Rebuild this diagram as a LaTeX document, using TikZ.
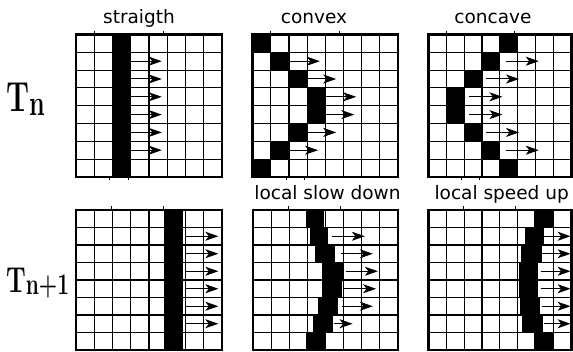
\documentclass[tikz,border=0pt]{standalone}
\usepackage{fontspec}
\setsansfont{DejaVu Sans}
\usetikzlibrary{arrows.meta}

\tikzset{
    frame/.style = {line width=2.6pt},
    cellline/.style = {line width=1.1pt},
    tick/.style = {line width=0.8pt},
    flow/.style = {line width=1pt, -{Stealth[length=13pt, width=9pt, inset=3.5pt]}},
    caption/.style = {font=\sffamily\fontsize{18.5}{20}\selectfont, inner sep=0pt, anchor=base},
    tlabel/.style = {inner sep=0pt, anchor=base west, xscale=0.7, transform shape, font=\bfseries}
}

\begin{document}
\begin{tikzpicture}[x=1pt, y=-1pt]
    \useasboundingbox (0,0) rectangle (573,352);
    \def\topY{34.5}
    \def\botY{210}

    %panel straigth
    \begin{scope}[shift={(76,\topY)}, x=18.25pt, y=-17.8pt]
        \foreach \i in {1,...,7} {
            \draw[cellline] (\i,0) -- (\i,8);
            \draw[cellline] (0,\i) -- (8,\i);
        }
        \fill (2,0) rectangle (3,8);
        \foreach \r in {1,...,6}
            \draw[flow] (3,\r+0.5) -- (4.7,\r+0.5);
        \draw[frame] (0,0) rectangle (8,8);
        \draw[tick] (1,0) -- (1,-0.2) (4.8,0) -- (4.8,-0.2) (1.85,8) -- (1.85,8.2) (2.85,8) -- (2.85,8.2);
    \end{scope}

    %panel convex
    \begin{scope}[shift={(252.7,\topY)}, x=18.15pt, y=-17.8pt]
        \foreach \i in {1,...,7} {
            \draw[cellline] (\i,0) -- (\i,8);
            \draw[cellline] (0,\i) -- (8,\i);
        }
        \foreach \r/\c in {0/0, 1/1, 2/2, 3/3, 4/3, 5/2, 6/1, 7/0}
            \fill (\c,\r) rectangle (\c+1,\r+1);
        \foreach \r/\a/\b in {1/2/3.7, 2/3/4.6, 3/4/5.7, 4/4/5.6, 5/3/4.6, 6/2/3.6}
            \draw[flow] (\a,\r+0.5) -- (\b,\r+0.5);
        \draw[frame] (0,0) rectangle (8,8);
        \draw[tick] (1,0) -- (1,-0.2) (4.8,0) -- (4.8,-0.2) (1.85,8) -- (1.85,8.2) (2.85,8) -- (2.85,8.2);
    \end{scope}

    %panel concave
    \begin{scope}[shift={(428.3,\topY)}, x=17.9pt, y=-17.8pt]
        \foreach \i in {1,...,7} {
            \draw[cellline] (\i,0) -- (\i,8);
            \draw[cellline] (0,\i) -- (8,\i);
        }
        \foreach \r/\c in {0/4, 1/3, 2/2, 3/1, 4/1, 5/2, 6/3, 7/4}
            \fill (\c,\r) rectangle (\c+1,\r+1);
        \foreach \r/\a/\b in {1/4.33/6.17, 2/3.25/5.07, 3/2.3/4.14, 4/2.3/4.14, 5/3.25/5.07, 6/4.33/6.17}
            \draw[flow] (\a,\r+0.5) -- (\b,\r+0.5);
        \draw[frame] (0,0) rectangle (8,8);
        \draw[tick] (1,0) -- (1,-0.2) (4.8,0) -- (4.8,-0.2) (1.85,8) -- (1.85,8.2) (2.85,8) -- (2.85,8.2);
    \end{scope}

    %panel straigth, next step
    \begin{scope}[shift={(76,\botY)}, x=18.25pt, y=-17.5pt]
        \foreach \i in {1,...,7} {
            \draw[cellline] (\i,0) -- (\i,8);
            \draw[cellline] (0,\i) -- (8,\i);
        }
        \fill (4.8,0) rectangle (5.85,8);
        \foreach \r in {1,...,6}
            \draw[flow] (6,\r+0.5) -- (7.8,\r+0.5);
        \draw[frame] (0,0) rectangle (8,8);
        \draw[tick] (1.95,0) -- (1.95,-0.2) (4.8,0) -- (4.8,-0.2);
    \end{scope}

    %panel local slow down
    \begin{scope}[shift={(253,\botY)}, x=18.1pt, y=-17.5pt]
        \foreach \i in {1,...,7} {
            \draw[cellline] (\i,0) -- (\i,8);
            \draw[cellline] (0,\i) -- (8,\i);
        }
        \foreach \r/\a/\b in {0/2.95/3.95, 1/3.15/4.15, 2/3.45/4.55, 3/3.8/5.0, 4/3.8/4.9, 5/3.6/4.7, 6/3.3/4.4, 7/2.95/4.05}
            \fill (\a,\r) rectangle (\b,\r+1);
        \foreach \r/\a/\b in {1/4.34/6.18, 2/4.85/6.62, 3/5.15/6.9, 4/5.05/6.8, 5/4.9/6.62, 6/4.45/5.5}
            \draw[flow] (\a,\r+0.5) -- (\b,\r+0.5);
        \draw[frame] (0,0) rectangle (8,8);
        \draw[tick] (1.95,0) -- (1.95,-0.2) (4.85,0) -- (4.85,-0.2);
    \end{scope}

    %panel local speed up
    \begin{scope}[shift={(428.3,\botY)}, x=17.9pt, y=-17.5pt]
        \foreach \i in {1,...,7} {
            \draw[cellline] (\i,0) -- (\i,8);
            \draw[cellline] (0,\i) -- (8,\i);
        }
        \foreach \r/\a/\b in {0/5.9/6.95, 1/5.4/6.45, 2/5.2/6.35, 3/5.05/6.15, 4/5.05/6.15, 5/5.1/6.25, 6/5.25/6.4, 7/5.9/6.95}
            \fill (\a,\r) rectangle (\b,\r+1);
        \foreach \r/\a in {1/6.45, 2/6.36, 3/6.27, 4/6.27, 5/6.36, 6/6.45}
            \draw[flow] (\a,\r+0.5) -- (7.95,\r+0.5);
        \draw[frame] (0,0) rectangle (8,8);
        \draw[tick] (1.95,0) -- (1.95,-0.2) (4.85,0) -- (4.85,-0.2);
    \end{scope}

    %labels
    \node[caption] (lstraigth) at (139,23.3) {straigth};
    \node[caption] (lconvex) at (314,23.3) {convex};
    \node[caption] (lconcave) at (493,23.3) {concave};
    \node[caption] (lslow) at (327.5,200) {local slow down};
    \node[caption] (lspeed) at (501.7,200) {local speed up};
    \node[tlabel] (tn) at (6,111.7) {\fontsize{42}{42}\selectfont T\raisebox{-3.5pt}{\fontsize{36}{36}\selectfont n}};
    \node[tlabel] (tnext) at (6,293) {\fontsize{36}{36}\selectfont T\raisebox{-2pt}{\fontsize{30}{30}\selectfont n+1}};
\end{tikzpicture}
\end{document}
